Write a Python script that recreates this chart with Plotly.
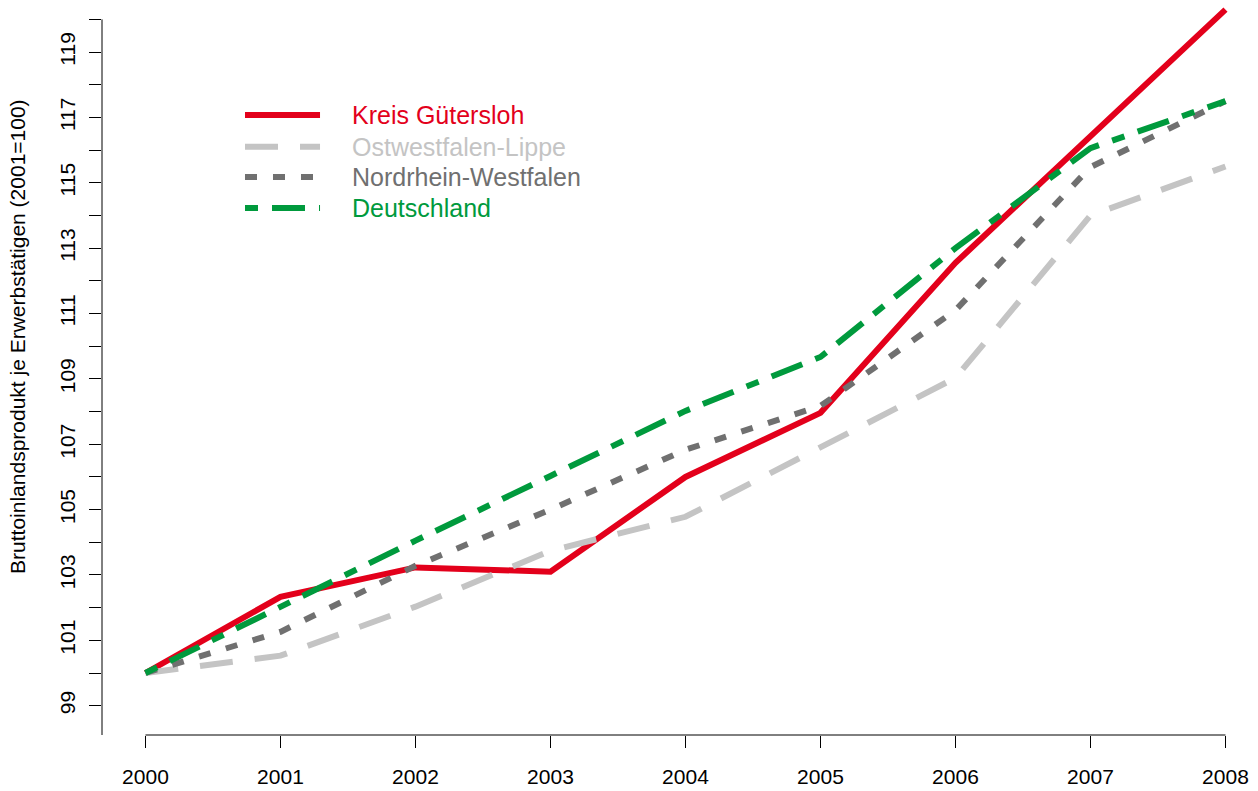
import plotly.graph_objects as go

# Jahre und Indexwerte (2001=100)
jahre = [2000, 2001, 2002, 2003, 2004, 2005, 2006, 2007, 2008]

kreis_guetersloh = [100.0, 102.33, 103.23, 103.1, 106.0, 107.96, 112.55, 116.4, 120.3]
ostwestfalen_lippe = [100.0, 100.53, 102.03, 103.74, 104.78, 106.92, 109.03, 114.0, 115.5]
nordrhein_westfalen = [100.0, 101.26, 103.28, 105.0, 106.83, 108.17, 111.1, 115.48, 117.5]
deutschland = [100.0, 102.03, 104.05, 106.03, 108.02, 109.67, 113.0, 116.06, 117.5]

namen = ["Kreis Gütersloh", "Ostwestfalen-Lippe", "Nordrhein-Westfalen", "Deutschland"]
werte = [kreis_guetersloh, ostwestfalen_lippe, nordrhein_westfalen, deutschland]

y_ticks = list(range(99, 121))
y_ticktext = [str(v) if v % 2 == 1 else "" for v in y_ticks]

farben = ["#E3001B", "#C4C4C4", "#707070", "#009A3D"]
striche = ["solid", "33px,22px", "12px,16px", "13px,14px,33px,14px"]

schrift = "Liberation Sans, Arial, sans-serif"

fig = go.Figure()

for name, y, farbe, strich in zip(namen, werte, farben, striche):
    fig.add_trace(go.Scatter(
        x=jahre, y=y, name=name, mode="lines",
        line=dict(color=farbe, width=6, dash=strich),
        showlegend=False, cliponaxis=False,
    ))

x_range = [1999.678, 2008.241]
y_range = [98.103, 120.44]

# Achsenlinien im R-Stil (nicht durchgehend)
fig.add_shape(type="line", xref="x", yref="paper", x0=jahre[0], x1=jahre[-1], y0=0, y1=0,
              line=dict(color="black", width=1))
fig.add_shape(type="line", xref="paper", yref="y", x0=0, x1=0, y0=y_range[0], y1=y_ticks[-1],
              line=dict(color="black", width=1))

# Legende von Hand
leg_x0, leg_x1, leg_text_x = 0.1237, 0.1886, 0.2145
leg_y = [0.8493, 0.8058, 0.7644, 0.7219]
for name, farbe, strich, ly in zip(namen, farben, striche, leg_y):
    fig.add_shape(type="line", xref="paper", yref="paper", x0=leg_x0, x1=leg_x1, y0=ly, y1=ly,
                  line=dict(color=farbe, width=6, dash=strich))
    fig.add_annotation(xref="paper", yref="paper", x=leg_text_x, y=ly, text=name,
                       showarrow=False, xanchor="left", yanchor="middle",
                       font=dict(family=schrift, size=25, color=farbe))

# y-Achsentitel
fig.add_annotation(xref="paper", yref="paper", x=-0.0727, y=0.5466,
                   text="Bruttoinlandsprodukt je Erwerbstätigen (2001=100)",
                   textangle=-90, showarrow=False, xanchor="center", yanchor="middle",
                   font=dict(family=schrift, size=21, color="black"))

fig.update_layout(
    width=1258, height=791,
    margin=dict(l=102, r=0, t=5, b=56),
    plot_bgcolor="white", paper_bgcolor="white",
    font=dict(family=schrift, size=21, color="black"),
    xaxis=dict(
        range=x_range, tickvals=jahre, ticktext=[str(j) for j in jahre],
        showgrid=False, zeroline=False, showline=False,
        ticks="outside", ticklen=12, tickwidth=1, tickcolor="black",
        ticklabelstandoff=11,
    ),
    yaxis=dict(
        range=y_range, tickvals=y_ticks, ticktext=y_ticktext,
        showgrid=False, zeroline=False, showline=False,
        ticks="outside", ticklen=12, tickwidth=1, tickcolor="black",
        tickangle=-90, ticklabelstandoff=6,
    ),
)

# Seitenrand des Browsers entfernen, damit die Grafik bei (0,0) beginnt
fig.write_html("out.html", config={"displayModeBar": False},
               post_script="document.body.style.margin='0';")
